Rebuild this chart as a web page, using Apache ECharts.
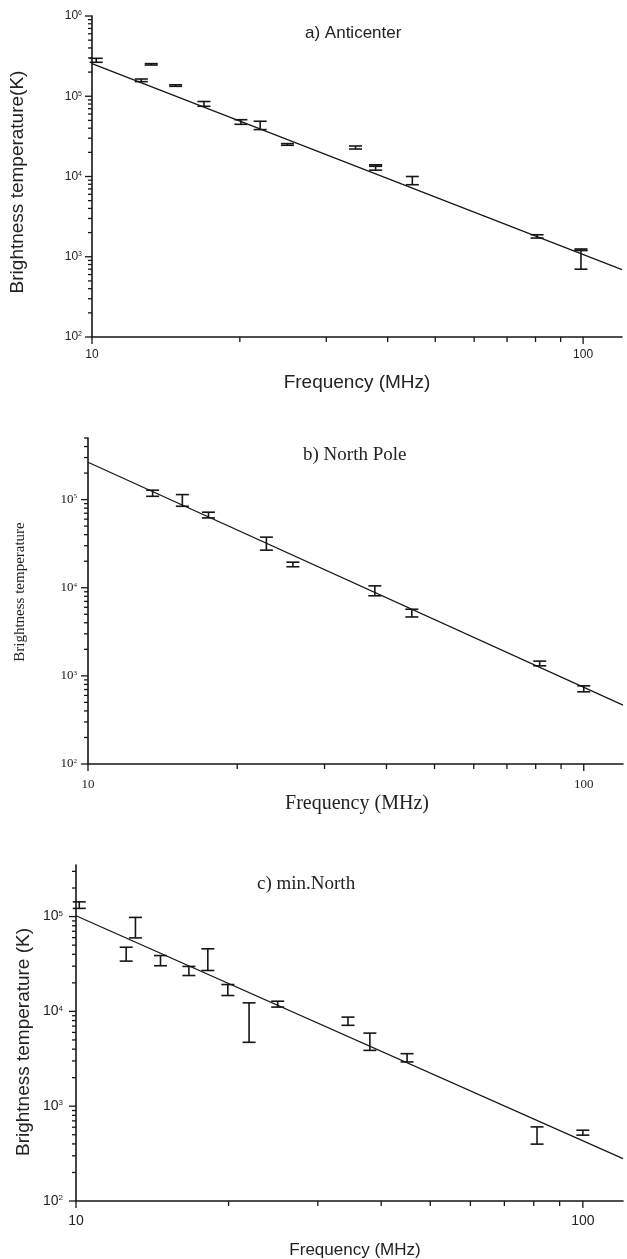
<!DOCTYPE html>
<html>
<head>
<meta charset="utf-8">
<script src="https://cdn.jsdelivr.net/npm/echarts@6/dist/echarts.min.js"></script>
<style>
  html, body { margin: 0; padding: 0; background: #fff; }
  #main { width: 627px; height: 1259px; }
</style>
</head>
<body>
<div id="main"></div>
<script>
// a) Anticenter
var freqA = [10.2, 12.6, 13.2, 14.8, 16.9, 20.1, 22.0, 25.0, 34.4, 37.8, 37.8, 44.9, 80.6, 99, 99];
var tempA = [2.83e5, 1.58e5, 2.5e5, 1.36e5, 8.0e4, 4.8e4, 4.3e4, 2.51e4, 2.3e4, 1.3e4, 1.37e4, 8.9e3, 1.8e3, 1.22e3, 1.1e3];
var lowA  = [2.65e5, 1.52e5, 2.45e5, 1.33e5, 7.5e4, 4.47e4, 3.84e4, 2.45e4, 2.2e4, 1.2e4, 1.34e4, 7.9e3, 1.71e3, 1.2e3, 7.0e2];
var highA = [2.97e5, 1.64e5, 2.55e5, 1.39e5, 8.6e4, 5.1e4, 4.88e4, 2.57e4, 2.4e4, 1.4e4, 1.4e4, 1.0e4, 1.88e3, 1.25e3, 1.2e3];
// b) North Pole
var freqB = [13.5, 15.5, 17.5, 22.9, 25.9, 37.9, 45.0, 81.5, 100];
var tempB = [1.19e5, 9.2e4, 6.6e4, 3.2e4, 1.84e4, 9.0e3, 5.1e3, 1.38e3, 7.08e2];
var lowB  = [1.09e5, 8.4e4, 6.2e4, 2.67e4, 1.73e4, 8.1e3, 4.66e3, 1.3e3, 6.59e2];
var highB = [1.28e5, 1.14e5, 7.2e4, 3.75e4, 1.95e4, 1.05e4, 5.7e3, 1.47e3, 7.71e2];
// c) min.North
var freqC = [10.15, 12.56, 13.1, 14.68, 16.7, 18.2, 19.93, 21.95, 25.0, 34.4, 38.0, 45.0, 81.2, 100];
var tempC = [1.32e5, 4.05e4, 7.7e4, 3.44e4, 2.69e4, 3.4e4, 1.69e4, 8.5e3, 1.19e4, 7.9e3, 4.4e3, 3.18e3, 4.91e2, 5.25e2];
var lowC  = [1.22e5, 3.39e4, 5.96e4, 3.03e4, 2.39e4, 2.7e4, 1.47e4, 4.72e3, 1.11e4, 7.13e3, 3.88e3, 2.93e3, 3.98e2, 4.95e2];
var highC = [1.43e5, 4.75e4, 9.8e4, 3.88e4, 2.98e4, 4.57e4, 1.92e4, 1.23e4, 1.28e4, 8.7e3, 5.9e3, 3.58e3, 6.05e2, 5.58e2];

// fitted power laws (end points)
var fitFreq = [10, 120];
var fitA = [2.55e5, 690];
var fitB = [2.65e5, 466];
var fitC = [1.02e5, 280];

// axes
var xMin = 10, xMax = 120;
var yMin = 100;
var yMax = [1e6, 5e5, 3.5e5];
var xTicks = [10, 20, 30, 40, 50, 60, 70, 80, 90, 100];
var xLabels = [10, 100];
var mantissas = [1, 2, 3, 4, 5, 6, 7, 8, 9];

var SANS = '"Liberation Sans", Arial, sans-serif';
var SERIF = '"Liberation Serif", "Times New Roman", serif';
var INK = '#161616';

var myChart = echarts.init(document.getElementById('main'));

function isPow10(v) {
    var e = Math.log10(v);
    return Math.abs(e - Math.round(e)) < 1e-6;
}

function yFmt(v) {
    if (!isPow10(v)) return '';
    return '{b|10}{s|' + Math.round(Math.log10(v)) + '}';
}

function xFmt(v) {
    for (var i = 0; i < xLabels.length; i++) {
        if (Math.abs(v - xLabels[i]) < 1e-6) return String(xLabels[i]);
    }
    return '';
}

// tick marks for one panel: [x, y, length, dir] dir 0 = x-axis, 1 = y-axis
function tickData(top, majX, minX, majY, minY) {
    var out = [];
    xTicks.forEach(function (t) {
        out.push([t, yMin, (t === 10 || t === 100) ? majX : minX, 0]);
    });
    for (var e = 2; e <= 6; e++) {
        mantissas.forEach(function (m) {
            var v = m * Math.pow(10, e);
            if (v <= top * 1.0001) out.push([xMin, v, m === 1 ? majY : minY, 1]);
        });
    }
    return out;
}

function renderTick(params, api) {
    var p = api.coord([api.value(0), api.value(1)]);
    var len = api.value(2);
    var shape = api.value(3) === 1
        ? { x1: p[0] - len, y1: p[1], x2: p[0], y2: p[1] }
        : { x1: p[0], y1: p[1], x2: p[0], y2: p[1] + len };
    return { type: 'line', shape: shape, style: { stroke: INK, lineWidth: 1.3 } };
}

function renderErr(params, api) {
    var f = api.value(0);
    var pl = api.coord([f, api.value(2)]);
    var ph = api.coord([f, api.value(3)]);
    var h = 6.5;
    var st = { stroke: INK, lineWidth: 1.6 };
    return {
        type: 'group',
        children: [
            { type: 'line', shape: { x1: pl[0], y1: pl[1], x2: ph[0], y2: ph[1] }, style: st },
            { type: 'line', shape: { x1: ph[0] - h, y1: ph[1], x2: ph[0] + h, y2: ph[1] }, style: st },
            { type: 'line', shape: { x1: pl[0] - h, y1: pl[1], x2: pl[0] + h, y2: pl[1] }, style: st }
        ]
    };
}

function zip(f, t, lo, hi) {
    return f.map(function (v, i) { return [v, t[i], lo[i], hi[i]]; });
}

var panels = [
    { font: SANS, lab: 12, sup: 7, ylm: 10, xlm: 12, ticks: tickData(yMax[0], 7, 5, 7, 4),
      err: zip(freqA, tempA, lowA, highA), fit: fitA },
    { font: SERIF, lab: 13, sup: 7, ylm: 11, xlm: 14, ticks: tickData(yMax[1], 7, 5, 7, 4),
      err: zip(freqB, tempB, lowB, highB), fit: fitB },
    { font: SANS, lab: 14, sup: 8, ylm: 13, xlm: 13, ticks: tickData(yMax[2], 7, 5, 7, 4),
      err: zip(freqC, tempC, lowC, highC), fit: fitC }
];

var grids = [
    { left: 92, right: 5, top: 16, bottom: 922 },
    { left: 88, right: 4, top: 438, bottom: 495 },
    { left: 76, right: 4, top: 865, bottom: 58 }
];

var xAxes = [], yAxes = [], series = [];
panels.forEach(function (p, i) {
    grids[i].outerBoundsMode = 'none';
    xAxes.push({
        type: 'log', logBase: 10, gridIndex: i, min: xMin, max: xMax,
        axisLine: { lineStyle: { color: INK, width: 1.6 } },
        axisTick: { show: false },
        splitLine: { show: false },
        axisLabel: { interval: 0, formatter: xFmt, margin: p.xlm, color: '#222',
                     fontFamily: p.font, fontSize: p.lab, hideOverlap: false }
    });
    yAxes.push({
        type: 'log', logBase: 10, gridIndex: i, min: yMin, max: yMax[i],
        axisLine: { lineStyle: { color: INK, width: 1.6 } },
        axisTick: { show: false },
        splitLine: { show: false },
        axisLabel: {
            interval: 0, formatter: yFmt, margin: p.ylm, color: '#222', hideOverlap: false,
            rich: {
                b: { fontFamily: p.font, fontSize: p.lab, color: '#222' },
                s: { fontFamily: p.font, fontSize: p.sup, color: '#222', verticalAlign: 'top' }
            }
        }
    });
    series.push({
        type: 'custom', xAxisIndex: i, yAxisIndex: i, renderItem: renderTick,
        data: p.ticks, silent: true, clip: false
    });
    series.push({
        type: 'line', xAxisIndex: i, yAxisIndex: i, symbol: 'none', silent: true,
        data: [[fitFreq[0], p.fit[0]], [fitFreq[1], p.fit[1]]],
        lineStyle: { color: INK, width: 1.2 }
    });
    series.push({
        type: 'custom', xAxisIndex: i, yAxisIndex: i, renderItem: renderErr,
        data: p.err, silent: true, clip: false
    });
});

function txt(text, x, y, font, size, rot, align) {
    return {
        type: 'text', x: x, y: y, rotation: rot || 0, silent: true,
        style: { text: text, fill: '#222', font: size + 'px ' + font,
                 align: align || 'center', verticalAlign: 'middle' }
    };
}

var option = {
    backgroundColor: '#fff',
    animation: false,
    grid: grids,
    xAxis: xAxes,
    yAxis: yAxes,
    series: series,
    graphic: [
        txt('a) Anticenter', 305, 33, SANS, 17, 0, 'left'),
        txt('Brightness temperature(K)', 18, 182, SANS, 19, Math.PI / 2),
        txt('Frequency (MHz)', 357, 383, SANS, 19),
        txt('b) North Pole', 303, 455, SERIF, 19, 0, 'left'),
        txt('Brightness temperature', 20, 592, SERIF, 15, Math.PI / 2),
        txt('Frequency (MHz)', 357, 804, SERIF, 20),
        txt('c) min.North', 257, 884, SERIF, 19, 0, 'left'),
        txt('Brightness temperature (K)', 24, 1042, SANS, 19, Math.PI / 2),
        txt('Frequency (MHz)', 355, 1250, SANS, 17)
    ]
};

myChart.setOption(option);
</script>
</body>
</html>
